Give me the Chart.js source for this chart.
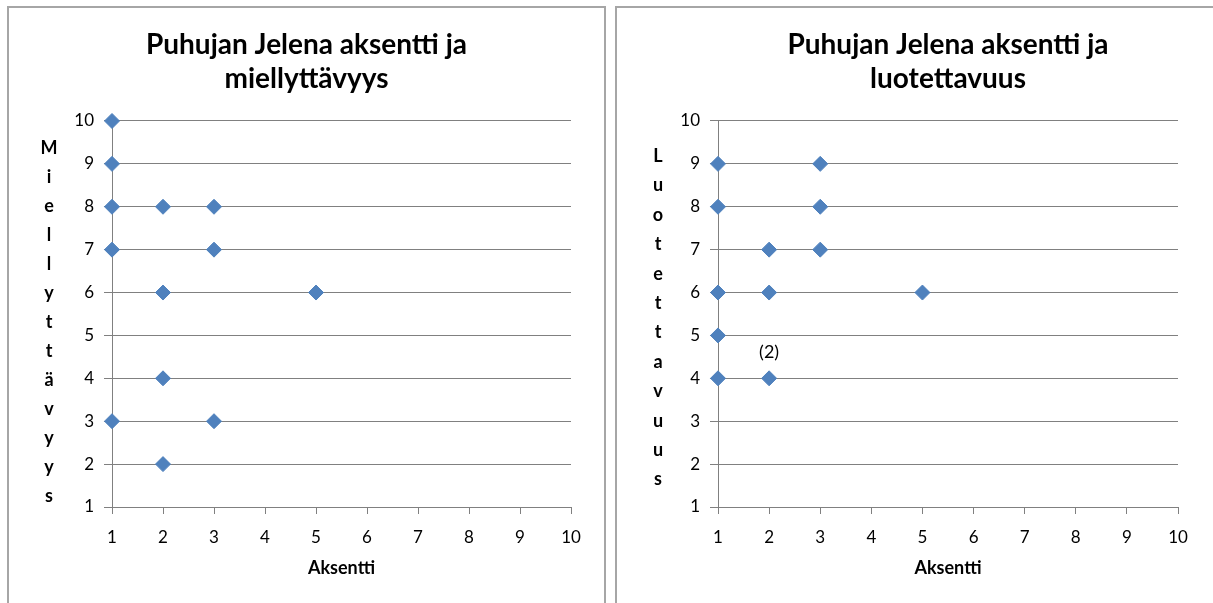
<!DOCTYPE html>
<html>
<head>
<meta charset="utf-8">
<script src="https://cdn.jsdelivr.net/npm/chart.js@4/dist/chart.umd.min.js"></script>
<style>
  html, body { margin: 0; padding: 0; background: #fff; width: 1213px; height: 603px; overflow: hidden; }
  .panel { position: absolute; top: 6px; height: 620px; border: 2px solid #a6a6a6; background: #fff; }
  #p1 { left: 7px; width: 595px; }
  #p2 { left: 615px; width: 660px; }
  canvas { display: block; }
</style>
</head>
<body>
<div class="panel" id="p1"><canvas id="c1" width="595" height="595" style="width:595px;height:595px"></canvas></div>
<div class="panel" id="p2"><canvas id="c2" width="596" height="595" style="width:596px;height:595px"></canvas></div>
<script>
// Titles and axis labels
const titleLeft = ['Puhujan Jelena aksentti ja', 'miellyttävyys'];
const titleRight = ['Puhujan Jelena aksentti ja', 'luotettavuus'];
const xAxisLabel = 'Aksentti';
const yLabelLeft = 'Miellyttävyys';
const yLabelRight = 'Luotettavuus';

// Both axes run 1..10 in steps of 1
const axisMin = 1;
const axisMax = 10;
const axisStep = 1;

// Accent vs. pleasantness
const accentLeft   = [1, 1, 1, 2, 3, 1, 3, 2, 5, 2, 1, 3, 2];
const pleasantness = [10, 9, 8, 8, 8, 7, 7, 6, 6, 4, 3, 3, 2];

// Accent vs. trustworthiness (count > 1 means overlapping answers)
const accentRight = [1, 3, 1, 3, 2, 3, 1, 2, 5, 1, 1, 2];
const trust       = [9, 9, 8, 8, 7, 7, 6, 6, 6, 5, 4, 4];
const trustCounts = [1, 1, 1, 1, 1, 1, 1, 1, 1, 1, 1, 2];

const FONT = 'Lato';
const GRID = '#808080';
const MARK = '#4f81bd';

function toPoints(xs, ys) {
  return xs.map((x, i) => ({ x: x, y: ys[i] }));
}

// Axis title written one letter per line, left of the value axis
const stackedYTitle = {
  id: 'stackedYTitle',
  afterDraw(chart, args, opts) {
    if (!opts.text) return;
    const { ctx, chartArea } = chart;
    const letters = Array.from(opts.text);
    ctx.save();
    ctx.font = 'bold 18px ' + FONT;
    ctx.fillStyle = '#000';
    ctx.textAlign = 'center';
    ctx.textBaseline = 'middle';
    const x = chartArea.left - opts.offset;
    const mid = chartArea.top + opts.center;
    letters.forEach((ch, i) => {
      ctx.fillText(ch, x, mid + (i - (letters.length - 1) / 2) * opts.spacing);
    });
    ctx.restore();
  }
};

// "(n)" above points that stand for more than one answer
const countLabels = {
  id: 'countLabels',
  afterDatasetsDraw(chart, args, opts) {
    if (!opts.counts) return;
    const { ctx } = chart;
    const meta = chart.getDatasetMeta(0);
    ctx.save();
    ctx.font = '18px ' + FONT;
    ctx.fillStyle = '#000';
    ctx.textAlign = 'center';
    ctx.textBaseline = 'middle';
    meta.data.forEach((el, i) => {
      const n = opts.counts[i];
      if (n > 1) ctx.fillText('(' + n + ')', el.x, el.y - opts.lift);
    });
    ctx.restore();
  }
};

function makeScales(yWidth) {
  const tickFont = { family: FONT, size: 17 };
  return {
    x: {
      type: 'linear', min: axisMin, max: axisMax,
      ticks: { stepSize: axisStep, padding: 13, color: '#000', font: tickFont },
      grid: { drawOnChartArea: false, drawTicks: true, tickLength: 7, color: GRID },
      border: { display: true, color: GRID },
      title: { display: true, text: xAxisLabel, color: '#000',
               font: { family: FONT, size: 18, weight: 'bold' }, padding: { top: 0, bottom: 24 } },
      afterFit(scale) { scale.height = 96; }
    },
    y: {
      type: 'linear', min: axisMin, max: axisMax,
      ticks: { stepSize: axisStep, padding: 10, color: '#000', font: tickFont },
      grid: { drawOnChartArea: true, drawTicks: true, tickLength: 8, color: GRID },
      border: { display: true, color: GRID },
      afterFit(scale) { scale.width = yWidth; }
    }
  };
}

function makeChart(id, title, points, yTitle, padding, yWidth, titleFull, titleOpts, counts) {
  return new Chart(document.getElementById(id), {
    type: 'scatter',
    data: {
      datasets: [{
        data: points,
        pointStyle: 'rectRot',
        pointRadius: 7.5,
        pointHoverRadius: 7.5,
        pointBackgroundColor: MARK,
        pointBorderColor: MARK,
        pointBorderWidth: 1,
        clip: false
      }]
    },
    options: {
      responsive: false,
      animation: false,
      events: [],
      layout: { padding: padding },
      scales: makeScales(yWidth),
      plugins: {
        legend: { display: false },
        tooltip: { enabled: false },
        title: {
          display: true, text: title, color: '#000', fullSize: titleFull,
          font: { family: FONT, size: 28, weight: 'bold', lineHeight: 1.214 },
          padding: { top: 20, bottom: 25 }
        },
        stackedYTitle: Object.assign({ text: yTitle }, titleOpts),
        countLabels: { counts: counts, lift: 26 }
      }
    },
    plugins: [stackedYTitle, countLabels]
  });
}

function draw() {
  makeChart('c1', titleLeft, toPoints(accentLeft, pleasantness), yLabelLeft,
            { left: 33, right: 33, top: 0, bottom: 0 }, 70, true,
            { offset: 63, center: 201, spacing: 29 }, null);
  makeChart('c2', titleRight, toPoints(accentRight, trust), yLabelRight,
            { left: 0, right: 35, top: 0, bottom: 0 }, 101, false,
            { offset: 60, center: 197, spacing: 29.4 }, trustCounts);
}

Promise.all([
  document.fonts.load('bold 28px Lato'),
  document.fonts.load('17px Lato'),
  document.fonts.load('bold 18px Lato')
]).then(draw, draw);
</script>
</body>
</html>
